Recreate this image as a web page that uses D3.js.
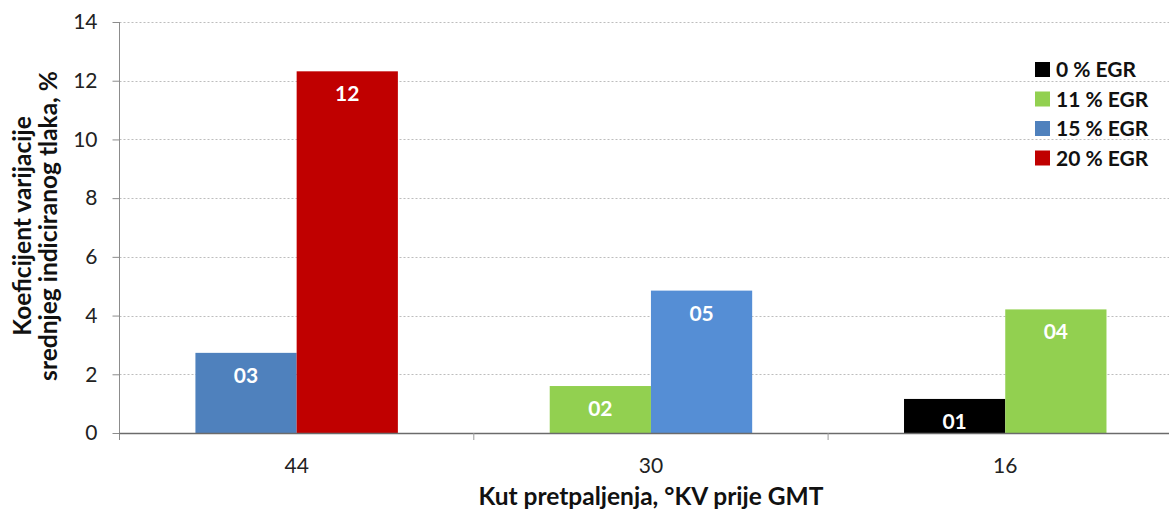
<!DOCTYPE html>
<html>
<head>
<meta charset="utf-8">
<script src="https://cdn.jsdelivr.net/npm/d3@7"></script>
<style>
  html, body { margin: 0; padding: 0; background: #fff; }
  svg { display: block; font-family: Lato, "Open Sans", sans-serif; }
</style>
</head>
<body>
<svg id="chart" width="1169" height="510"></svg>
<script>
// Ignition advance angles (°KV before TDC)
const categories = ["44", "30", "16"];
// EGR levels shown in the legend
const seriesNames = ["0 % EGR", "11 % EGR", "15 % EGR", "20 % EGR"];
// Two bars per ignition angle: left and right bar
const leftSeries = ["15 % EGR", "11 % EGR", "0 % EGR"];
const leftValues = [2.73, 1.60, 1.16];
const rightSeries = ["20 % EGR", "15 % EGR", "11 % EGR"];
const rightValues = [12.32, 4.85, 4.21];
// Y axis ticks
const yTicks = [0, 2, 4, 6, 8, 10, 12, 14];

const seriesColor = {
  "0 % EGR": "#000000",
  "11 % EGR": "#92D050",
  "15 % EGR": "#4F81BD",
  "20 % EGR": "#C00000"
};
// the 15 % bar at 30° uses a lighter blue
function barColor(series, category) {
  if (series === "15 % EGR" && category === "30") return "#558ED5";
  return seriesColor[series];
}

const bars = [];
categories.forEach((c, i) => {
  bars.push({ category: c, slot: "L", series: leftSeries[i], value: leftValues[i] });
  bars.push({ category: c, slot: "R", series: rightSeries[i], value: rightValues[i] });
});

const svg = d3.select("#chart");
const plotLeft = 119.5, plotTop = 22, plotBottom = 433;
const plotRight = plotLeft + 3 * 354.3;

const x = d3.scaleBand().domain(categories).range([plotLeft, plotRight]).paddingInner(0).paddingOuter(0);
const inner = d3.scaleBand().domain(["L", "R"]).range([0, x.bandwidth()]).paddingInner(0).paddingOuter(0.75);
const y = d3.scaleLinear().domain([0, 14]).range([plotBottom, plotTop]);

// gridlines
svg.append("g")
  .selectAll("line")
  .data(yTicks.filter(d => d > 0))
  .join("line")
  .attr("x1", plotLeft).attr("x2", plotRight)
  .attr("y1", d => Math.round(y(d)) + 0.5).attr("y2", d => Math.round(y(d)) + 0.5)
  .attr("stroke", "#bdbdbd").attr("stroke-width", 1).attr("stroke-dasharray", "2,2");

// bars
const barSel = svg.append("g").selectAll("g").data(bars).join("g");
barSel.append("rect")
  .attr("x", d => x(d.category) + inner(d.slot))
  .attr("width", inner.bandwidth())
  .attr("y", d => y(d.value))
  .attr("height", d => y(0) - y(d.value))
  .attr("fill", d => barColor(d.series, d.category));

// value labels inside bars
const fmt = d3.format("02.0f");
barSel.append("text")
  .attr("x", d => x(d.category) + inner(d.slot) + inner.bandwidth() / 2)
  .attr("y", d => y(d.value) + 30)
  .attr("text-anchor", "middle")
  .attr("fill", "#fff")
  .attr("font-weight", "bold")
  .attr("font-size", 21)
  .text(d => fmt(d.value));

// y axis
const yAxis = svg.append("g")
  .attr("transform", `translate(${plotLeft},0)`)
  .call(d3.axisLeft(y).tickValues(yTicks).tickSize(7).tickPadding(15).tickFormat(d3.format("d")));
yAxis.select(".domain").attr("stroke", "#8c8c8c").attr("d", `M0,${plotTop}V${plotBottom + 7}`);
yAxis.selectAll(".tick line").attr("stroke", "#8c8c8c");
yAxis.selectAll(".tick text").attr("font-size", 21).attr("fill", "#222").attr("font-family", "Lato, sans-serif");

// x axis with ticks at category boundaries
const xAxisG = svg.append("g").attr("transform", `translate(0,${plotBottom})`);
xAxisG.append("line").attr("x1", plotLeft).attr("x2", plotRight).attr("y1", 0.5).attr("y2", 0.5)
  .attr("stroke", "#6b6b6b").attr("stroke-width", 1.5);
xAxisG.selectAll("line.b")
  .data(categories.slice(1))
  .join("line").attr("class", "b")
  .attr("x1", d => x(d)).attr("x2", d => x(d)).attr("y1", 0).attr("y2", 7)
  .attr("stroke", "#9a9a9a");
xAxisG.selectAll("text")
  .data(categories)
  .join("text")
  .attr("x", d => x(d) + x.bandwidth() / 2)
  .attr("y", 40)
  .attr("text-anchor", "middle")
  .attr("font-size", 21)
  .attr("fill", "#222")
  .text(d => d);

// axis titles
svg.append("text")
  .attr("x", 651).attr("y", 505)
  .attr("text-anchor", "middle")
  .attr("font-size", 24.5).attr("font-weight", "bold").attr("fill", "#111")
  .text("Kut pretpaljenja, °KV prije GMT");

const yTitle = svg.append("text")
  .attr("transform", "translate(0,226) rotate(-90)")
  .attr("text-anchor", "middle")
  .attr("font-size", 24.5).attr("font-weight", "bold").attr("fill", "#111");
yTitle.append("tspan").attr("x", 0).attr("y", 31).text("Koeficijent varijacije");
yTitle.append("tspan").attr("x", 0).attr("y", 57).text("srednjeg indiciranog tlaka, %");

// legend
const legend = svg.append("g").attr("transform", "translate(1035,62)");
const li = legend.selectAll("g").data(seriesNames).join("g")
  .attr("transform", (d, i) => `translate(0,${i * 29.5})`);
li.append("rect").attr("width", 15).attr("height", 15).attr("fill", d => seriesColor[d]);
li.append("text").attr("x", 21).attr("y", 15)
  .attr("font-size", 21).attr("font-weight", "bold").attr("fill", "#111")
  .text(d => d);
</script>
</body>
</html>
